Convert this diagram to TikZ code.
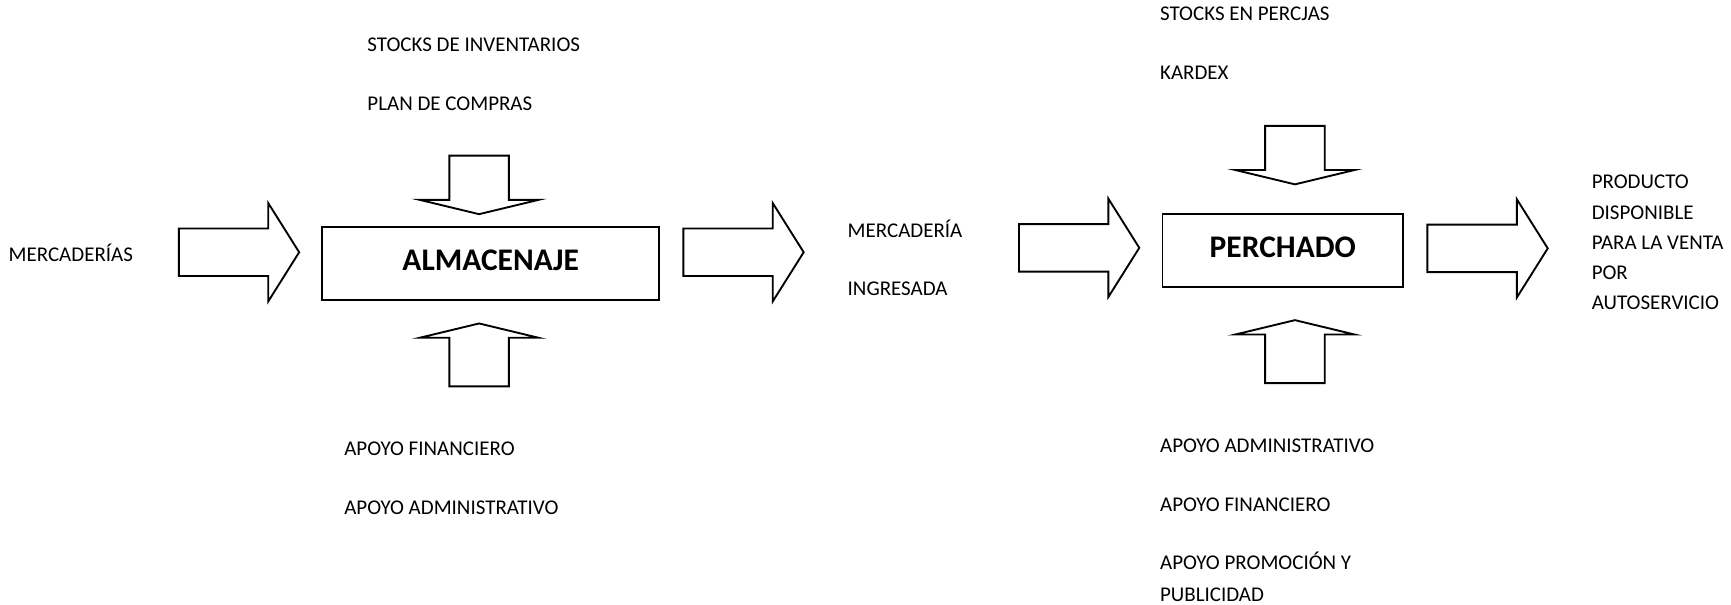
\documentclass[tikz,border=0pt]{standalone}
\usepackage{fontspec}
\setmainfont{Carlito}
\begin{document}
\begin{tikzpicture}[x=1pt, y=-1pt, line width=1.7pt,
  lbl/.style={anchor=base west, inner sep=0pt, font=\fontsize{19}{23}\selectfont},
  procbox/.style={draw, rectangle, inner sep=0pt, text height=18.4pt, text depth=6pt,
    font=\bfseries\fontsize{28.5}{32}\selectfont},
  % block arrow pointing right, origin at the middle of the tail
  rarrow/.pic={\draw (0,-21.5) -- (81,-21.5) -- (81,-44.5) -- (109,0) -- (81,44.5) -- (81,21.5) -- (0,21.5) -- cycle;},
  % block arrow pointing down, origin at the tip
  darrow/.pic={\draw (0,0) -- (-54,-13) -- (-27,-13) -- (-27,-53) -- (27,-53) -- (27,-13) -- (54,-13) -- cycle;},
  % block arrow pointing up, origin at the tip
  uarrow/.pic={\draw (0,0) -- (-54,13) -- (-27,13) -- (-27,57) -- (27,57) -- (27,13) -- (54,13) -- cycle;},
]
\useasboundingbox (0,0) rectangle (1568,548);

% process boxes
\node[procbox, minimum width=305pt, minimum height=66pt] (alm) at (444.5,239) {ALMACENAJE};
\node[procbox, minimum width=218pt, minimum height=66pt] (per) at (1162,227) {PERCHADO};

% flow arrows
\pic (a1) at (162,228.5) {rarrow};
\pic (a2) at (619,228.5) {rarrow};
\pic (a3) at (923,224.5) {rarrow};
\pic (a4) at (1293,225) {rarrow};
\pic (d1) at (434,194) {darrow};
\pic (u1) at (434,293) {uarrow};
\pic (d2) at (1173,167) {darrow};
\pic (u2) at (1173,290) {uarrow};

% inputs and outputs
\node[lbl] (mer) at (7,237) {MERCADERÍAS};
\node[lbl] (sti) at (332,47) {STOCKS DE INVENTARIOS};
\node[lbl] (plc) at (332,100) {PLAN DE COMPRAS};
\node[lbl] (af1) at (311,413) {APOYO FINANCIERO};
\node[lbl] (aa1) at (311,466) {APOYO ADMINISTRATIVO};
\node[lbl] (mi1) at (767,215) {MERCADERÍA};
\node[lbl] (mi2) at (767,268) {INGRESADA};
\node[lbl] (stp) at (1050,19) {STOCKS EN PERCJAS};
\node[lbl] (kdx) at (1050,72) {KARDEX};
\node[lbl] (aa2) at (1050,410) {APOYO ADMINISTRATIVO};
\node[lbl] (af2) at (1050,463) {APOYO FINANCIERO};
\node[lbl] (pp1) at (1050,516) {APOYO PROMOCIÓN Y};
\node[lbl] (pp2) at (1050,545) {PUBLICIDAD};
\node[lbl] (pd1) at (1441,171) {PRODUCTO};
\node[lbl] (pd2) at (1441,199) {DISPONIBLE};
\node[lbl] (pd3) at (1441,226) {PARA LA VENTA};
\node[lbl] (pd4) at (1441,253) {POR};
\node[lbl] (pd5) at (1441,280) {AUTOSERVICIO};
\end{tikzpicture}
\end{document}
